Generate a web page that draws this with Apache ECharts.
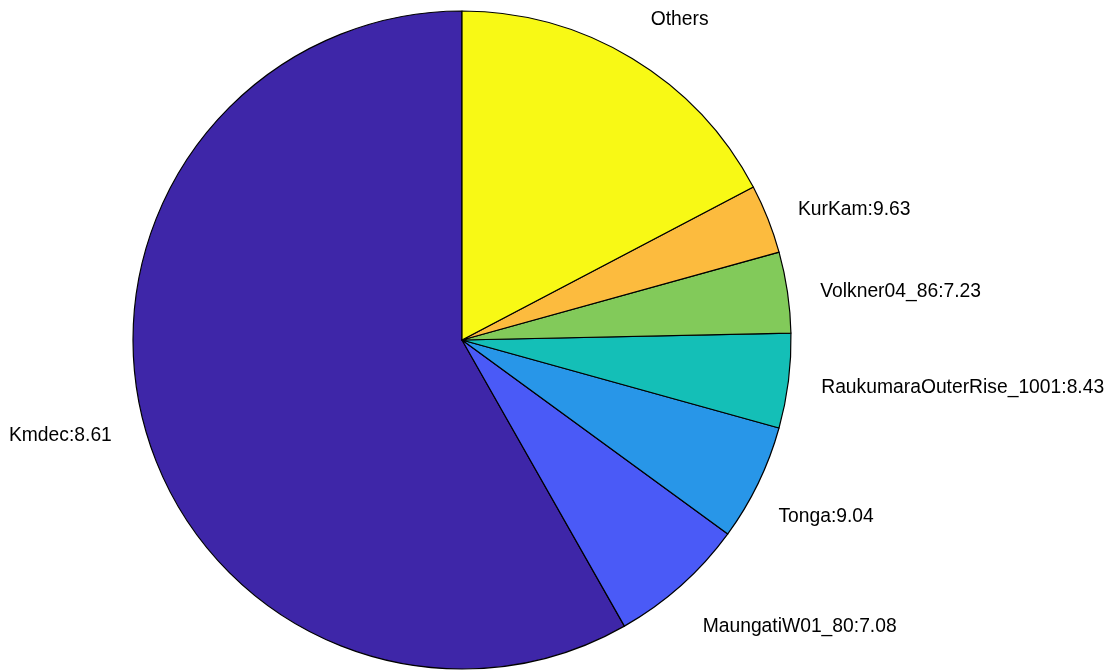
<!DOCTYPE html>
<html>
<head>
<meta charset="utf-8">
<script src="https://cdn.jsdelivr.net/npm/echarts@6/dist/echarts.min.js"></script>
<style>html,body{margin:0;padding:0;background:#fff}#c{width:1118px;height:670px}</style>
</head>
<body>
<div id="c"></div>
<script>
const labels = ['Kmdec:8.61', 'MaungatiW01_80:7.08', 'Tonga:9.04', 'RaukumaraOuterRise_1001:8.43', 'Volkner04_86:7.23', 'KurKam:9.63', 'Others'];
const shares = [58.2, 6.75, 5.72, 4.64, 3.97, 3.39, 17.3];
const colors = ['#3e26a8', '#4a5af7', '#2896e8', '#14bfb7', '#82ca5a', '#fcbb3e', '#f8f915'];

// small text nudges mimicking the original label placement
const nudge = [[0, 5], [-2, 20], [-10, 21], [0, 3], [0, 3], [-1, 1], [-1, -15]];

const chart = echarts.init(document.getElementById('c'), null, {renderer: 'canvas'});
chart.setOption({
  animation: false,
  series: [{
    type: 'pie',
    center: [462, 340],
    radius: 329,
    startAngle: 90,
    clockwise: false,
    avoidLabelOverlap: false,
    itemStyle: {borderColor: '#000', borderWidth: 1.2},
    label: {
      position: 'outside',
      color: '#000',
      fontFamily: 'Liberation Sans, Arial, sans-serif',
      fontSize: 19.3,
      formatter: p => p.name
    },
    labelLine: {show: false, length: 28, length2: 0},
    labelLayout: p => ({dx: nudge[p.dataIndex][0], dy: nudge[p.dataIndex][1]}),
    emphasis: {disabled: true},
    data: labels.map((n, i) => ({name: n, value: shares[i], itemStyle: {color: colors[i]}}))
  }]
});
</script>
</body>
</html>
